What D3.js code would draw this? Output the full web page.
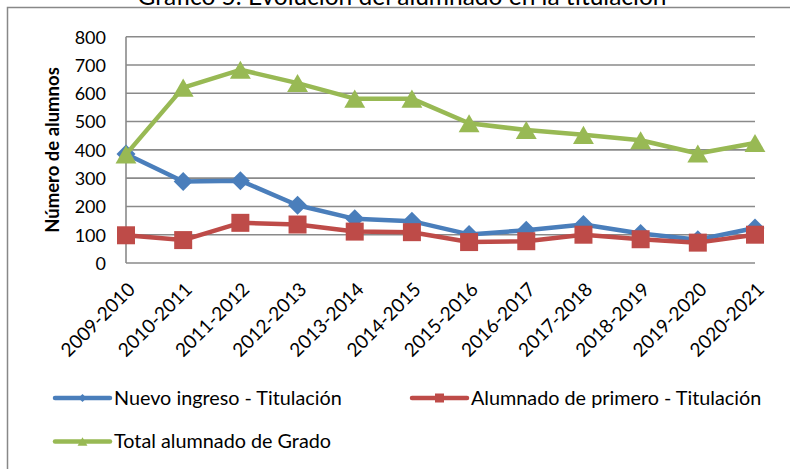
<!DOCTYPE html>
<html>
<head>
<meta charset="utf-8">
<script src="https://cdn.jsdelivr.net/npm/d3@7"></script>
<style>
  html, body { margin: 0; padding: 0; background: #fff; }
  svg { display: block; font-family: Lato, "Open Sans", sans-serif; }
</style>
</head>
<body>
<svg id="chart" width="790" height="469"></svg>
<script>
const categories = ["2009-2010","2010-2011","2011-2012","2012-2013","2013-2014","2014-2015","2015-2016","2016-2017","2017-2018","2018-2019","2019-2020","2020-2021"];
const nuevoIngreso = [385, 288, 291, 204, 156, 148, 101, 116, 136, 104, 82, 124];
const alumnadoPrimero = [98, 81, 142, 136, 111, 109, 74, 77, 100, 84, 72, 100];
const totalGrado = [384, 620, 683, 636, 581, 581, 494, 470, 453, 434, 387, 424];
const yTicks = [0, 100, 200, 300, 400, 500, 600, 700, 800];
const seriesNames = ["Nuevo ingreso - Titulación", "Alumnado de primero - Titulación", "Total alumnado de Grado"];
const titleText = "Gráfico 5. Evolución del alumnado en la titulación";
const yTitle = "Número de alumnos";

(function () {
const svg = d3.select("#chart");
const pLeft = 126, pRight = 755, pTop = 36.7, pBottom = 263;

const x = d3.scalePoint().domain(categories).range([pLeft, pRight]).padding(0);
const y = d3.scaleLinear().domain([0, 800]).range([pBottom, pTop]);

// outer frame
svg.append("path")
  .attr("d", `M7.5,475 V7.5 H800`)
  .attr("fill", "none").attr("stroke", "#888").attr("stroke-width", 1.5);

// title (cut off at top, as in the reference)
svg.append("text")
  .attr("x", 402).attr("y", 5)
  .attr("text-anchor", "middle")
  .attr("font-size", 24.5)
  .attr("fill", "#000")
  .text(titleText);

// gridlines
svg.append("g").selectAll("line").data(yTicks).join("line")
  .attr("x1", pLeft).attr("x2", pRight)
  .attr("y1", d => y(d)).attr("y2", d => y(d))
  .attr("stroke", "#8a8a8a").attr("stroke-width", 1.6);

// vertical axis line
svg.append("line").attr("x1", pLeft).attr("x2", pLeft).attr("y1", pTop).attr("y2", pBottom)
  .attr("stroke", "#8a8a8a").attr("stroke-width", 1.6);

// y tick labels
const yAxis = d3.axisLeft(y).tickValues(yTicks).tickSize(0).tickPadding(0);
const gy = svg.append("g").attr("transform", `translate(106,0)`).call(yAxis);
gy.select(".domain").remove();
gy.selectAll("text").attr("font-size", 18).attr("font-family", "Lato, sans-serif").attr("fill", "#000").attr("dy", "0.35em");

// y title
svg.append("text")
  .attr("transform", `translate(59,150) rotate(-90)`)
  .attr("text-anchor", "middle")
  .attr("font-size", 18.5).attr("font-weight", "bold")
  .text(yTitle);

// x labels
const xAxis = d3.axisBottom(x).tickSize(0).tickPadding(0);
const gx = svg.append("g").attr("transform", `translate(0,${pBottom})`).call(xAxis);
gx.select(".domain").remove();
gx.selectAll("text")
  .attr("font-size", 19).attr("font-family", "Lato, sans-serif").attr("fill", "#000")
  .attr("text-anchor", "end")
  .attr("dy", "0.35em")
  .attr("transform", "translate(5,23) rotate(-45)")
  .attr("y", 0).attr("x", 0);

// custom symbols
const diamond = { draw(ctx, s) { const r = Math.sqrt(s) / 2; ctx.moveTo(0, -r); ctx.lineTo(r, 0); ctx.lineTo(0, r); ctx.lineTo(-r, 0); ctx.closePath(); } };
const square = { draw(ctx, s) { const r = Math.sqrt(s) / 2; ctx.rect(-r, -r, 2 * r, 2 * r); } };
const triangle = { draw(ctx, s) { const r = Math.sqrt(s) / 2; ctx.moveTo(0, -r * 0.95); ctx.lineTo(r * 1.1, r * 0.95); ctx.lineTo(-r * 1.1, r * 0.95); ctx.closePath(); } };

const series = [
  { name: seriesNames[0], values: nuevoIngreso, color: "#4a7ebb", sym: diamond, size: 19 * 19 },
  { name: seriesNames[1], values: alumnadoPrimero, color: "#be4b48", sym: square, size: 18 * 18 },
  { name: seriesNames[2], values: totalGrado, color: "#98b954", sym: triangle, size: 19 * 19 }
];

const line = d3.line().x((d, i) => x(categories[i])).y(d => y(d));

series.forEach(s => {
  const g = svg.append("g");
  g.append("path").datum(s.values).attr("d", line)
    .attr("fill", "none").attr("stroke", s.color).attr("stroke-width", 4.5)
    .attr("stroke-linejoin", "round").attr("stroke-linecap", "round");
  g.selectAll("path.m").data(s.values).join("path").attr("class", "m")
    .attr("d", d3.symbol().type(s.sym).size(s.size))
    .attr("transform", (d, i) => `translate(${x(categories[i])},${y(d)})`)
    .attr("fill", s.color);
});

// legend
const legendItems = [
  { s: series[0], x: 55, y: 398, lsize: 8 * 8 },
  { s: series[1], x: 412, y: 398, lsize: 9 * 9 },
  { s: series[2], x: 55, y: 441.5, lsize: 9 * 9 }
];
legendItems.forEach(it => {
  const g = svg.append("g").attr("transform", `translate(${it.x},${it.y})`);
  g.append("line").attr("x1", 0).attr("x2", 55).attr("y1", 0).attr("y2", 0)
    .attr("stroke", it.s.color).attr("stroke-width", 4.5).attr("stroke-linecap", "round");
  g.append("path").attr("d", d3.symbol().type(it.s.sym).size(it.lsize))
    .attr("transform", "translate(27.5,0)").attr("fill", it.s.color);
  g.append("text").attr("x", 59).attr("y", 0).attr("dy", "0.35em")
    .attr("font-size", 19.8).attr("fill", "#000").text(it.s.name);
});
})();
</script>
</body>
</html>
